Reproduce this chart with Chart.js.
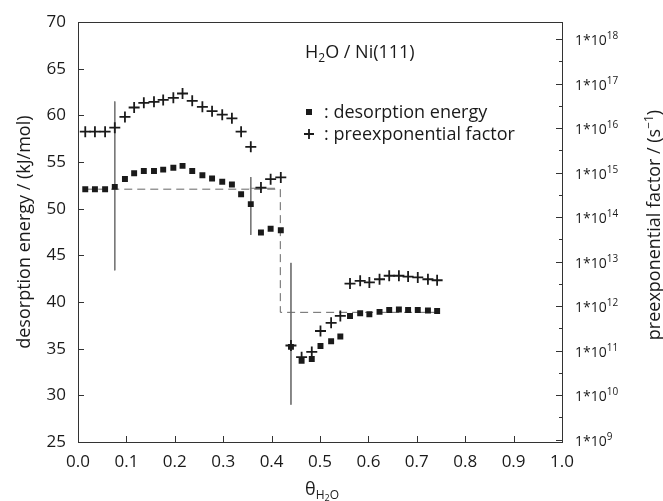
<!DOCTYPE html>
<html>
<head>
<meta charset="utf-8">
<script src="https://cdn.jsdelivr.net/npm/chart.js@4.4.1/dist/chart.umd.min.js"></script>
<style>
  html, body { margin: 0; padding: 0; background: #fff; }
  #wrap { position: relative; width: 663px; height: 501px; }
</style>
</head>
<body>
<div id="wrap"><canvas id="c" width="663" height="501"></canvas></div>
<script>
// coverage theta(H2O)
const coverage = [0.015, 0.035, 0.056, 0.076, 0.097, 0.116, 0.136, 0.157, 0.176, 0.197,
  0.216, 0.236, 0.257, 0.277, 0.298, 0.318, 0.337, 0.357, 0.378, 0.398,
  0.419, 0.440, 0.462, 0.483, 0.501, 0.523, 0.542, 0.562, 0.583, 0.602,
  0.623, 0.643, 0.663, 0.682, 0.702, 0.723, 0.742];
// desorption energy / (kJ/mol)
const desorptionEnergy = [52.1, 52.1, 52.1, 52.35, 53.2, 53.8, 54.05, 54.05, 54.2, 54.4,
  54.6, 54.05, 53.6, 53.25, 52.9, 52.6, 51.55, 50.5, 47.45, 47.85,
  47.7, 35.2, 33.7, 33.9, 35.3, 35.8, 36.3, 38.5, 38.8, 38.7,
  38.95, 39.15, 39.2, 39.15, 39.15, 39.1, 39.05];
// preexponential factor / (s^-1)
const preexpFactor = [8.3e15, 8.3e15, 8.3e15, 1.02e16, 1.78e16, 2.9e16, 3.7e16, 3.9e16, 4.3e16, 4.8e16,
  6.0e16, 4.1e16, 3.0e16, 2.4e16, 2.0e16, 1.66e16, 8.3e15, 3.8e15, 4.6e14, 7.1e14,
  7.8e14, 1.3e11, 7.1e10, 9.3e10, 2.75e11, 4.2e11, 6.0e11, 3.2e12, 3.7e12, 3.4e12,
  4.0e12, 4.8e12, 4.8e12, 4.6e12, 4.4e12, 4.0e12, 3.8e12];

const coverageTicks = [0, 0.1, 0.2, 0.3, 0.4, 0.5, 0.6, 0.7, 0.8, 0.9, 1.0];
const energyTicks = [25, 30, 35, 40, 45, 50, 55, 60, 65, 70];
const factorExponents = [9, 10, 11, 12, 13, 14, 15, 16, 17, 18];

// dashed step guide (energy axis)
const stepCoverage = [0.015, 0.418, 0.418, 0.745];
const stepEnergy = [52.1, 52.1, 38.9, 38.9];
// thin solid marker lines (energy axis)
const barLines = [
  { x: [0.076, 0.076], y: [61.5, 43.4] },
  { x: [0.357, 0.357], y: [53.4, 47.2] },
  { x: [0.355, 0.407], y: [52.2, 52.2] },
  { x: [0.440, 0.440], y: [44.2, 29.0] }
];

const FONT = '"Open Sans", "DejaVu Sans", sans-serif';
const INK = '#1a1a1a';

const pts = (xs, ys) => xs.map((x, i) => ({ x, y: ys[i] }));

function drawRuns(ctx, parts, x, y, align) {
  let w = 0;
  parts.forEach(p => { ctx.font = p[1] + 'px ' + FONT; w += ctx.measureText(p[0]).width; });
  let cx = align === 'center' ? x - w / 2 : x;
  parts.forEach(p => {
    ctx.font = p[1] + 'px ' + FONT;
    ctx.fillText(p[0], cx, y + (p[2] || 0));
    cx += ctx.measureText(p[0]).width;
  });
}

const decor = {
  id: 'decor',
  afterDraw(chart) {
    const { ctx, chartArea: a, scales } = chart;
    const sx = scales.x, sy = scales.y, s2 = scales.y2;
    ctx.save();
    ctx.strokeStyle = '#333';
    ctx.lineWidth = 1;
    ctx.strokeRect(Math.round(a.left) + 0.5, Math.round(a.top) + 0.5,
      Math.round(a.right - a.left), Math.round(a.bottom - a.top));

    // inward ticks
    ctx.beginPath();
    coverageTicks.forEach(v => {
      const px = Math.round(sx.getPixelForValue(v)) + 0.5;
      ctx.moveTo(px, a.bottom); ctx.lineTo(px, a.bottom - 6);
    });
    energyTicks.forEach(v => {
      const py = Math.round(sy.getPixelForValue(v)) + 0.5;
      ctx.moveTo(a.left, py); ctx.lineTo(a.left + 6, py);
    });
    factorExponents.forEach(e => {
      const py = Math.round(s2.getPixelForValue(Math.pow(10, e))) + 0.5;
      ctx.moveTo(a.right, py); ctx.lineTo(a.right - 6, py);
      const pm = Math.round(s2.getPixelForValue(Math.pow(10, e + 0.5))) + 0.5;
      if (pm > a.top) { ctx.moveTo(a.right, pm); ctx.lineTo(a.right - 3, pm); }
    });
    ctx.stroke();

    ctx.fillStyle = INK;
    ctx.textAlign = 'left';
    ctx.textBaseline = 'alphabetic';

    // right axis labels 1*10^n
    factorExponents.forEach(e => {
      const py = s2.getPixelForValue(Math.pow(10, e));
      drawRuns(ctx, [['1*10', 14], [String(e), 10, -6]], a.right + 13, py + 6, 'left');
    });

    // left title
    ctx.save();
    ctx.translate(30, (a.top + a.bottom) / 2);
    ctx.rotate(-Math.PI / 2);
    drawRuns(ctx, [['desorption energy / (kJ/mol)', 18]], 0, 0, 'center');
    ctx.restore();

    // right title
    ctx.save();
    ctx.translate(660, 225);
    ctx.rotate(-Math.PI / 2);
    drawRuns(ctx, [['preexponential factor / (s', 18], ['\u22121', 12, -7], [')', 18]], 0, 0, 'center');
    ctx.restore();

    // x title
    drawRuns(ctx, [['\u03B8', 18], ['H', 12, 4], ['2', 9, 6], ['O', 12, 4]], (a.left + a.right) / 2 + 2, 495, 'center');

    // in-plot label and legend
    drawRuns(ctx, [['H', 18], ['2', 12, 4], ['O / Ni(111)', 18]], a.left + 227, 58, 'left');
    ctx.fillRect(a.left + 228, 109, 6, 6);
    drawRuns(ctx, [[': desorption energy', 18]], a.left + 246, 118, 'left');
    ctx.beginPath();
    ctx.lineWidth = 1.8;
    ctx.strokeStyle = INK;
    ctx.moveTo(a.left + 226, 134); ctx.lineTo(a.left + 236, 134);
    ctx.moveTo(a.left + 231, 129); ctx.lineTo(a.left + 231, 139);
    ctx.stroke();
    drawRuns(ctx, [[': preexponential factor', 18]], a.left + 246, 140, 'left');
    ctx.restore();
  }
};

const datasets = [
  {
    label: 'desorption energy',
    data: pts(coverage, desorptionEnergy),
    yAxisID: 'y',
    pointStyle: 'rect',
    pointRadius: 4.2,
    backgroundColor: INK,
    borderWidth: 0,
    order: 0
  },
  {
    label: 'preexponential factor',
    data: pts(coverage, preexpFactor),
    yAxisID: 'y2',
    pointStyle: 'cross',
    pointRadius: 5.5,
    borderColor: INK,
    borderWidth: 1.8,
    order: 0
  },
  {
    label: 'step',
    data: pts(stepCoverage, stepEnergy),
    yAxisID: 'y',
    showLine: true,
    pointRadius: 0,
    borderColor: '#666',
    borderWidth: 1,
    borderDash: [8, 5],
    order: 2
  }
];
barLines.forEach((b, i) => datasets.push({
  label: 'bar' + i,
  data: pts(b.x, b.y),
  yAxisID: 'y',
  showLine: true,
  pointRadius: 0,
  borderColor: '#777',
  borderWidth: 1,
  order: 2
}));

new Chart(document.getElementById('c').getContext('2d'), {
  type: 'scatter',
  data: { datasets },
  options: {
    responsive: false,
    maintainAspectRatio: false,
    animation: false,
    devicePixelRatio: 1,
    layout: { padding: { top: 22, left: 0, right: 0, bottom: 0 } },
    plugins: { legend: { display: false }, tooltip: { enabled: false } },
    scales: {
      x: {
        type: 'linear', position: 'bottom', min: 0, max: 1,
        afterBuildTicks: s => { s.ticks = coverageTicks.map(v => ({ value: v })); },
        afterFit: s => { s.height = 59; },
        ticks: { callback: v => Number(v).toFixed(1), font: { family: FONT, size: 17 }, color: INK, padding: 10, maxRotation: 0 },
        grid: { display: false, drawTicks: false },
        border: { display: false }
      },
      y: {
        type: 'linear', position: 'left', min: 25, max: 70,
        afterBuildTicks: s => { s.ticks = energyTicks.map(v => ({ value: v })); },
        afterFit: s => { s.width = 78; },
        ticks: { font: { family: FONT, size: 17 }, color: INK, padding: 12 },
        grid: { display: false, drawTicks: false },
        border: { display: false }
      },
      y2: {
        type: 'logarithmic', position: 'right', min: 8.8e8, max: 2.4e18,
        afterFit: s => { s.width = 101; },
        ticks: { display: false },
        grid: { display: false, drawTicks: false },
        border: { display: false }
      }
    }
  },
  plugins: [decor]
});
</script>
</body>
</html>
